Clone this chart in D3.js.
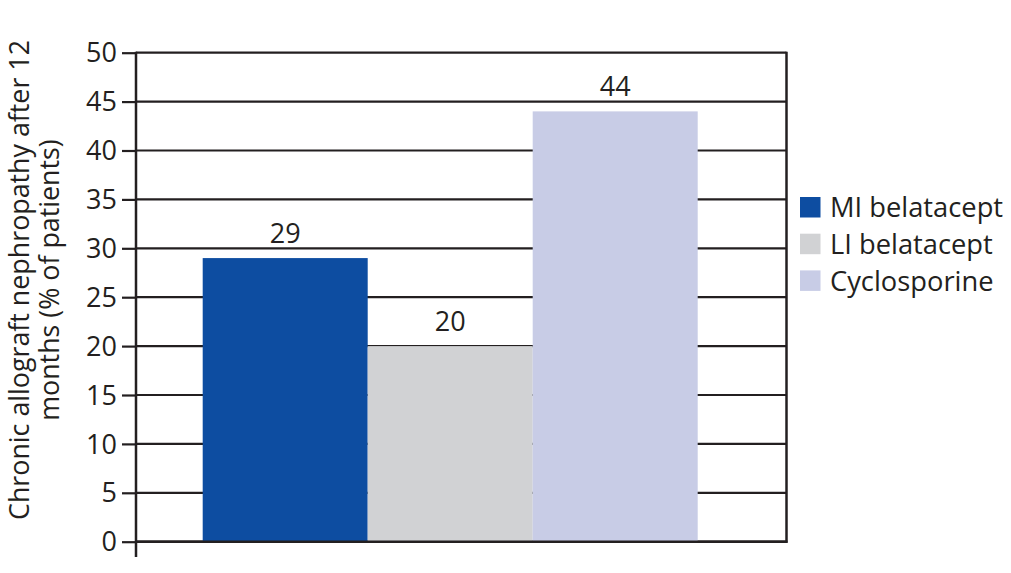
<!doctype html>
<html lang="en">
<head>
<meta charset="utf-8">
<title>Chronic allograft nephropathy</title>
<style>
html, body {
	margin: 0;
	padding: 0;
	background: #fff;
	overflow: hidden;
}
svg text {
	font-family: 'Open Sans', 'Noto Sans', sans-serif;
	fill: #231f20;
}
</style>
</head>
<body>
<div id="chart"></div>
<script src="https://cdnjs.cloudflare.com/ajax/libs/d3/7.8.5/d3.min.js"></script>
<script>
// data
var series = ['MI belatacept', 'LI belatacept', 'Cyclosporine'];
var values = [29, 20, 44];
var colors = ['#0d4da1', '#d1d2d4', '#c8cce6'];
var yTicks = [0, 5, 10, 15, 20, 25, 30, 35, 40, 45, 50];
var yTitle = ['Chronic allograft nephropathy after 12', 'months (% of patients)'];

var W = 1011, H = 573;
var plot = { left: 136, right: 786.5, top: 52.7, bottom: 541.7 };
var INK = '#231f20';

var svg = d3.select('#chart').append('svg')
	.attr('width', W)
	.attr('height', H);

var y = d3.scaleLinear().domain([0, 50]).range([plot.bottom, plot.top]);
var x = d3.scaleBand().domain(series).range([202.7, 697.7]).padding(0);

// gridlines
svg.append('g').selectAll('line')
	.data(yTicks)
	.enter().append('line')
	.attr('x1', plot.left)
	.attr('x2', plot.right)
	.attr('y1', function (d) { return y(d); })
	.attr('y2', function (d) { return y(d); })
	.attr('stroke', INK)
	.attr('stroke-width', 2.2);

// bars
svg.append('g').selectAll('rect')
	.data(values)
	.enter().append('rect')
	.attr('x', function (d, i) { return x(series[i]); })
	.attr('width', x.bandwidth())
	.attr('y', function (d) { return y(d); })
	.attr('height', function (d) { return y(0) - y(d); })
	.attr('fill', function (d, i) { return colors[i]; });

// value labels
svg.append('g').selectAll('text')
	.data(values)
	.enter().append('text')
	.attr('x', function (d, i) { return x(series[i]) + x.bandwidth() / 2; })
	.attr('y', function (d) { return y(d) - 15; })
	.attr('text-anchor', 'middle')
	.attr('font-size', 27)
	.text(function (d) { return d; });

// y axis
var yAxis = d3.axisLeft(y).tickValues(yTicks).tickSize(14).tickPadding(5);
var ag = svg.append('g')
	.attr('transform', 'translate(' + plot.left + ',0)')
	.call(yAxis);
ag.select('.domain').remove();
ag.selectAll('.tick line').attr('stroke', INK).attr('stroke-width', 2.2);
ag.selectAll('.tick text')
	.attr('font-size', 27)
	.attr('font-family', "'Open Sans', 'Noto Sans', sans-serif")
	.attr('fill', INK)
	.attr('dy', '0.34em');

// axis line and right border
svg.append('line')
	.attr('x1', plot.left).attr('x2', plot.left)
	.attr('y1', plot.top - 1).attr('y2', 557)
	.attr('stroke', INK).attr('stroke-width', 2.5);
svg.append('line')
	.attr('x1', plot.right).attr('x2', plot.right)
	.attr('y1', plot.top - 1).attr('y2', plot.bottom + 1)
	.attr('stroke', INK).attr('stroke-width', 2.5);
svg.append('line')
	.attr('x1', plot.left).attr('x2', plot.right + 1)
	.attr('y1', y(0)).attr('y2', y(0))
	.attr('stroke', INK).attr('stroke-width', 2.5);

// y title
var title = svg.append('text')
	.attr('transform', 'translate(36,280) rotate(-90)')
	.attr('text-anchor', 'middle')
	.attr('font-size', 26.8);
title.selectAll('tspan')
	.data(yTitle)
	.enter().append('tspan')
	.attr('x', 0)
	.attr('dy', function (d, i) { return i === 0 ? '-0.25em' : '1.12em'; })
	.text(function (d) { return d; });

// legend
var legend = svg.append('g').attr('transform', 'translate(800,197)');
var rows = legend.selectAll('g')
	.data(series)
	.enter().append('g')
	.attr('transform', function (d, i) { return 'translate(0,' + (i * 36.7) + ')'; });
rows.append('rect')
	.attr('width', 20.5)
	.attr('height', 20.5)
	.attr('fill', function (d, i) { return colors[i]; });
rows.append('text')
	.attr('x', 30)
	.attr('y', 10.5)
	.attr('dy', '0.36em')
	.attr('font-size', 27.3)
	.text(function (d) { return d; });
</script>
</body>
</html>
